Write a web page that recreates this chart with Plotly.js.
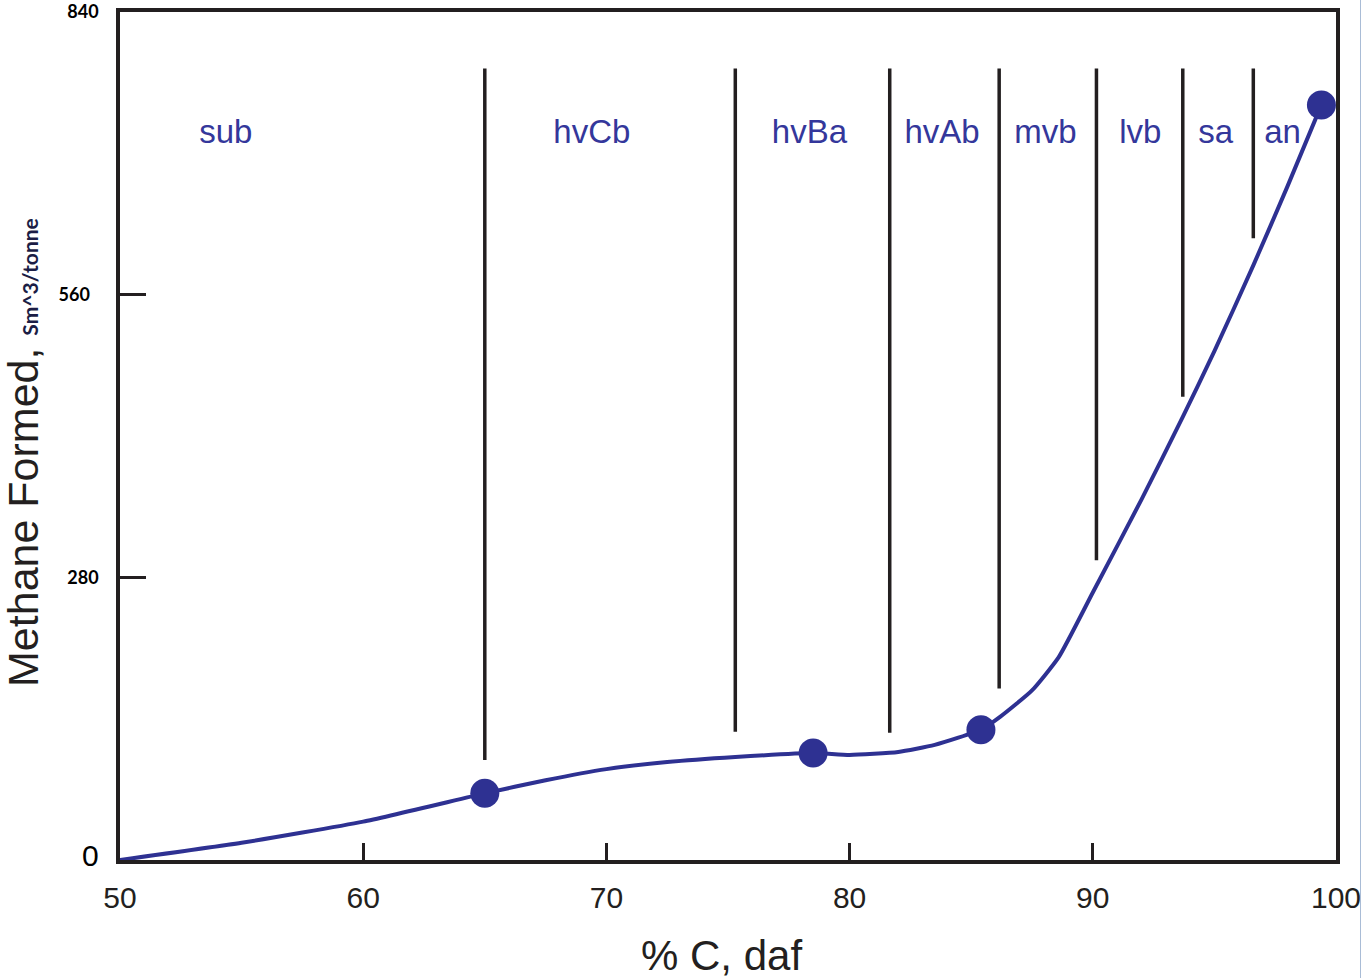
<!DOCTYPE html>
<html>
<head>
<meta charset="utf-8">
<script src="https://cdn.plot.ly/plotly-3.0.1.min.js"></script>
<style>
  html, body { margin: 0; padding: 0; background: #fff; }
  #wrap { width: 1360px; height: 978px; overflow: hidden; border-right: 1px solid #a9bcd6; }
  #chart { width: 1367px; height: 978px; }
</style>
</head>
<body>
<div id="wrap"><div id="chart"></div></div>
<script>
// Methane formed vs carbon content (% C, daf), with coal rank bands
const curveX = [50, 55, 60, 65, 67.5, 70, 72.5, 75.3, 78.5, 80, 82, 83.5, 85.4, 86.2, 87.5, 88.6, 90, 92, 93.7, 95, 96.6, 98, 99.4];
const curveY = [0, 17, 38, 66, 79, 90, 97, 102, 106, 104, 107, 114, 129, 142, 168, 201, 265, 357, 439, 504, 589, 667, 748];

const pointX = [65, 78.5, 85.4, 99.4];
const pointY = [66, 106, 129, 748];

// rank boundaries: x position, upper end, lower end
const boundaryX = [65, 75.3, 81.65, 86.15, 90.15, 93.7, 96.6];
const boundaryTop = [784, 784, 784, 784, 784, 784, 784];
const boundaryBottom = [99, 127, 126, 170, 297, 459, 616];

const rankNames = ['sub', 'hvCb', 'hvBa', 'hvAb', 'mvb', 'lvb', 'sa', 'an'];
const rankX = [54.35, 69.4, 78.35, 83.8, 88.05, 91.95, 95.05, 97.8];
const rankY = [718, 718, 718, 718, 718, 718, 718, 718];

const xTicks = [50, 60, 70, 80, 90, 100];
const yTicks = [0, 280, 560, 840];
const yTickText = ['<span style="font-family:Liberation Sans, Arial;font-size:30px;font-weight:normal">0</span>', '280', '560\u00a0\u00a0', '840'];

const ink = '#231f20';
const navy = '#2e3192';

// boundary segments joined into one trace, separated by gaps
const bx = [], by = [];
boundaryX.forEach((x, i) => {
  bx.push(x, x, null);
  by.push(boundaryTop[i], boundaryBottom[i], null);
});

const traces = [
  {
    x: bx, y: by, mode: 'lines', connectgaps: false,
    line: { color: ink, width: 3.5 }, hoverinfo: 'skip', showlegend: false
  },
  {
    x: curveX, y: curveY, mode: 'lines',
    line: { color: navy, width: 4, shape: 'spline', smoothing: 0.5 },
    showlegend: false
  },
  {
    x: pointX, y: pointY, mode: 'markers',
    marker: { color: navy, size: 29 },
    showlegend: false, cliponaxis: false
  },
  {
    x: rankX, y: rankY, mode: 'text', text: rankNames,
    textposition: 'middle center',
    textfont: { family: 'Liberation Sans, Arial, sans-serif', size: 33, color: '#34379b' },
    showlegend: false, hoverinfo: 'skip'
  }
];

const layout = {
  width: 1367, height: 978,
  margin: { l: 120, r: 31, t: 12, b: 118 },
  paper_bgcolor: '#fff', plot_bgcolor: '#fff',
  showlegend: false,
  xaxis: {
    range: [50, 100], tickvals: xTicks, ticktext: xTicks.map(String),
    ticks: 'inside', ticklen: 17, tickwidth: 2.5, tickcolor: ink,
    showline: true, mirror: true, linecolor: ink, linewidth: 3.5,
    showgrid: false, zeroline: false,
    tickfont: { family: 'Liberation Sans, Arial, sans-serif', size: 30, color: ink },
    ticklabelstandoff: 8, ticklabeloverflow: 'allow'
  },
  yaxis: {
    range: [0, 840], tickvals: yTicks, ticktext: yTickText,
    ticks: 'inside', ticklen: 26, tickwidth: 2.5, tickcolor: ink,
    showline: true, mirror: true, linecolor: ink, linewidth: 3.5,
    showgrid: false, zeroline: false,
    tickfont: { family: 'Lato, sans-serif', size: 18, color: '#000', weight: 'bold' },
    ticklabelstandoff: 14, ticklabeloverflow: 'allow'
  },
  annotations: [
    {
      xref: 'paper', yref: 'paper', x: 0.495, y: 0, yshift: -95,
      xanchor: 'center', yanchor: 'middle', showarrow: false,
      text: '% C, daf',
      font: { family: 'Liberation Sans, Arial, sans-serif', size: 42, color: ink }
    },
    {
      xref: 'paper', yref: 'paper', x: 0, xshift: -97, y: 0.48,
      xanchor: 'center', yanchor: 'middle', showarrow: false, textangle: -90,
      text: 'Methane Formed, <span style="font-family:Lato;font-size:21px;font-weight:bold;color:#1b1d45">Sm^3/tonne</span>',
      font: { family: 'Liberation Sans, Arial, sans-serif', size: 43, color: ink }
    }
  ]
};

Plotly.newPlot('chart', traces, layout, { displayModeBar: false, responsive: false });
</script>
</body>
</html>
